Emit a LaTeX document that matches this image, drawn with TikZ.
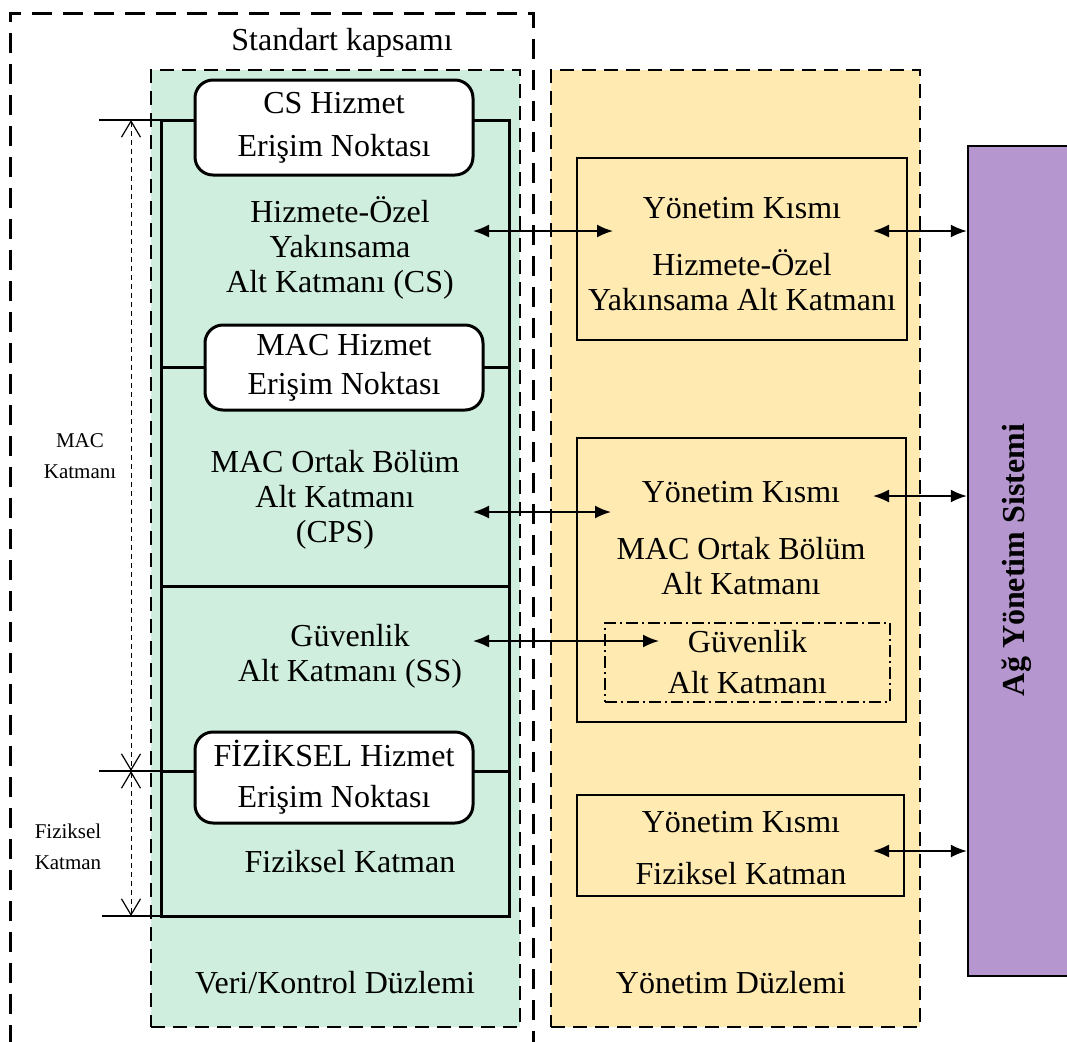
\documentclass[tikz,border=0pt]{standalone}
\usepackage{fontspec}
\setmainfont{Liberation Serif}
\usetikzlibrary{arrows.meta}
\definecolor{gfill}{RGB}{207,238,221}
\definecolor{yfill}{RGB}{255,234,178}
\definecolor{pfill}{RGB}{181,150,206}
\begin{document}
\begin{tikzpicture}[x=0.5pt,y=-0.5pt,
  lines/.style={font=\fontsize{16}{#1}\selectfont, align=center, inner sep=0pt},
  lines/.default=17.5,
  small/.style={font=\fontsize{10.5}{15.5}\selectfont, align=center, inner sep=0pt},
  outerdash/.style={line width=1.5pt, dash pattern=on 10pt off 5.5pt},
  planedash/.style={line width=1pt, dash pattern=on 7pt off 4pt},
  sap/.style={draw, fill=white, line width=1.5pt, rounded corners=9pt},
  mbox/.style={draw, line width=0.8pt, inner sep=0pt},
  bi/.style={line width=0.9pt, {Latex[length=8pt,width=6.5pt]}-{Latex[length=8pt,width=6.5pt]}},
  dim/.style={line width=0.5pt, dash pattern=on 2.5pt off 2pt, {Straight Barb[length=8pt,width=9.5pt,line width=0.6pt]}-{Straight Barb[length=8pt,width=9.5pt,line width=0.6pt]}},
  tick/.style={line width=1.1pt}
]
\useasboundingbox (0,0) rectangle (1067,1041);

% outer scope box (open at bottom)
\draw[outerdash] (10,1045) -- (10,13) -- (533,13) -- (533,1045);
\node[lines] (std) at (342,43) {Standart kapsamı};

% planes
\node[planedash, draw, fill=gfill, minimum width=184.5pt, minimum height=478.5pt, inner sep=0pt] (gp) at (335.5,548.5) {};
\node[planedash, draw, fill=yfill, minimum width=184.5pt, minimum height=478.5pt, inner sep=0pt] (yp) at (735.5,548.5) {};

% inner stack box
\node[draw, line width=1.5pt, minimum width=174pt, minimum height=398pt, inner sep=0pt, outer sep=0pt] (ib) at (335,518) {};
\draw[line width=1.5pt] (ib.west |- 0,367) -- (ib.east |- 0,367);
\draw[line width=1.5pt] (ib.west |- 0,586) -- (ib.east |- 0,586);
\draw[line width=1.5pt] (ib.west |- 0,771) -- (ib.east |- 0,771);

% ticks and dimension lines
\coordinate (t1) at (99,120);
\coordinate (t2) at (99,771);
\coordinate (t3) at (102,916);
\draw[tick] (t1) -- (ib.west |- t1);
\draw[tick] (t2) -- (ib.west |- t2);
\draw[tick] (t3) -- (ib.west |- t3);
\coordinate (d1) at (131,120);
\coordinate (d2) at (131,771);
\coordinate (d3) at (131,916);
\draw[dim] (d1) -- (d2);
\draw[dim] (d2) -- (d3);
\node[small] (macl) at (80,456) {MAC\\Katmanı};
\node[small] (fizl) at (68,847) {Fiziksel\\Katman};

% service access points
\node[sap, minimum width=139pt, minimum height=47.5pt] (cssap) at (334,127.5) {};
\node[lines=21.5] at (cssap) {CS Hizmet\\Erişim Noktası};
\node[sap, minimum width=139pt, minimum height=42.5pt] (macsap) at (344,367.5) {};
\node[lines=19.5] at (macsap) {MAC Hizmet\\Erişim Noktası};
\node[sap, minimum width=139pt, minimum height=45.5pt] (physap) at (334,777.5) {};
\node[lines=20.5] at (physap) {FİZİKSEL Hizmet\\Erişim Noktası};

% layer texts
\node[lines] (cs) at (340,248) {Hizmete-Özel\\Yakınsama\\Alt Katmanı (CS)};
\node[lines] (cps) at (335,500) {MAC Ortak Bölüm\\Alt Katmanı\\(CPS)};
\node[lines] (ss) at (350,656) {Güvenlik\\Alt Katmanı (SS)};
\node[lines] (phy) at (350,862) {Fiziksel Katman};
\node[lines] (vk) at (335,983) {Veri/Kontrol Düzlemi};
\node[lines] (yd) at (731,983) {Yönetim Düzlemi};

% management boxes
\node[mbox, minimum width=165pt, minimum height=91pt] (y1) at (742,249) {};
\node[lines] (y1a) at (742,208) {Yönetim Kısmı};
\node[lines] (y1b) at (742,280) {Hizmete-Özel\\Yakınsama Alt Katmanı};
\node[mbox, minimum width=164.5pt, minimum height=142pt] (y2) at (741.5,580) {};
\node[lines] (y2a) at (741,492) {Yönetim Kısmı};
\node[lines] (y2b) at (741,566) {MAC Ortak Bölüm\\Alt Katmanı};
\node[draw, line width=0.7pt, dash pattern=on 6pt off 2pt on 1pt off 2pt, minimum width=142.5pt, minimum height=39.5pt, inner sep=0pt] (ssm) at (747.5,662.5) {};
\node[lines=20.5] at (ssm) {Güvenlik\\Alt Katmanı};
\node[mbox, minimum width=163.5pt, minimum height=50.5pt] (y3) at (740.5,845.5) {};
\node[lines] (y3a) at (741,822) {Yönetim Kısmı};
\node[lines] (y3b) at (741,874) {Fiziksel Katman};

% network management system
\node[draw, line width=1.2pt, fill=pfill, minimum width=53.5pt, minimum height=415pt, inner sep=0pt] (nms) at (1021.5,561) {};
\node[font=\fontsize{16}{18}\selectfont\bfseries, rotate=90, inner sep=0pt] (nmst) at (1017,560) {Ağ Yönetim Sistemi};

% arrows
\coordinate (a1l) at (473,231); \coordinate (a1r) at (613,231);
\coordinate (a2l) at (473,512); \coordinate (a2r) at (611,512);
\coordinate (a3l) at (473,641); \coordinate (a3r) at (659,641);
\draw[bi] (a1l) -- (a1r);
\draw[bi] (a2l) -- (a2r);
\draw[bi] (a3l) -- (a3r);
\coordinate (b1) at (873,231);
\coordinate (b2) at (873,496);
\coordinate (b3) at (873,851);
\draw[bi] (b1) -- (nms.west |- b1);
\draw[bi] (b2) -- (nms.west |- b2);
\draw[bi] (b3) -- (nms.west |- b3);
\end{tikzpicture}
\end{document}
